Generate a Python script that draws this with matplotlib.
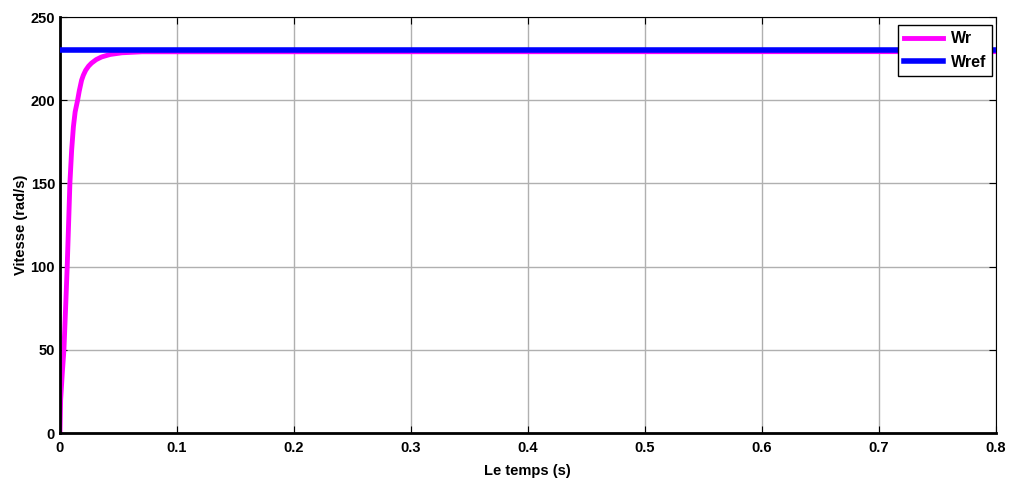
import numpy as np
import matplotlib
matplotlib.use("Agg")
import matplotlib.pyplot as plt

# ==============================
# Speed response data
# ==============================
t_wr = [0.0, 0.0006, 0.0020, 0.0034, 0.0050, 0.0062, 0.0075, 0.0085, 0.0100,
        0.0115, 0.0130, 0.0151, 0.0165, 0.0185, 0.0200, 0.0220, 0.0245, 0.0270,
        0.0310, 0.0356, 0.0430, 0.0530, 0.0700, 0.8]
wr = [0.0, 20.0, 36.0, 50.0, 78.0, 100.0, 128.0, 150.0, 170.0,
      184.0, 193.0, 200.0, 205.5, 212.0, 215.0, 218.0, 220.5, 222.3,
      224.4, 226.0, 227.5, 228.5, 229.1, 229.2]

t_ref = [0.0, 0.8]
wref = [230.0, 230.0]

plt.rcParams["font.family"] = ["Liberation Sans", "DejaVu Sans"]
plt.rcParams["font.weight"] = "bold"

fig = plt.figure(figsize=(10.16, 4.79), dpi=100)
ax = fig.add_axes([0.059, 0.096, 0.921, 0.8685])

ax.plot(t_wr, wr, color="#ff00ff", linewidth=3.5, label="Wr", zorder=2,
        solid_joinstyle="round")
ax.plot(t_ref, wref, color="#0000ff", linewidth=4, label="Wref", zorder=3)

ax.set_xlim(0, 0.8)
ax.set_ylim(0, 250)
ax.set_xticks(np.arange(0, 0.81, 0.1))
ax.set_xticklabels(["0", "0.1", "0.2", "0.3", "0.4", "0.5", "0.6", "0.7", "0.8"])
ax.set_yticks(np.arange(0, 251, 50))

ax.grid(True, color="#b0b0b0", linewidth=1)
ax.tick_params(direction="in", top=True, right=True, length=5, labelsize=10.5)
ax.tick_params(axis="x", pad=6)
for lbl in ax.get_xticklabels() + ax.get_yticklabels():
    lbl.set_fontweight("bold")

ax.spines["left"].set_linewidth(2)
ax.spines["bottom"].set_linewidth(2)
ax.spines["top"].set_linewidth(0.8)
ax.spines["right"].set_linewidth(0.8)

ax.set_xlabel("Le temps (s)", fontsize=10.5, fontweight="bold", labelpad=6)
ax.set_ylabel("Vitesse (rad/s)", fontsize=10.5, fontweight="bold", labelpad=2)

leg = ax.legend(loc="upper right", fontsize=11.5, frameon=True, fancybox=False,
                framealpha=1, handlelength=2.4, handletextpad=0.5,
                borderpad=0.4, labelspacing=0.55, borderaxespad=0,
                bbox_to_anchor=(0.9965, 0.981))
leg.get_frame().set_edgecolor("black")
leg.get_frame().set_linewidth(1)
for txt in leg.get_texts():
    txt.set_fontweight("bold")

fig.savefig("out.png", dpi=100)
